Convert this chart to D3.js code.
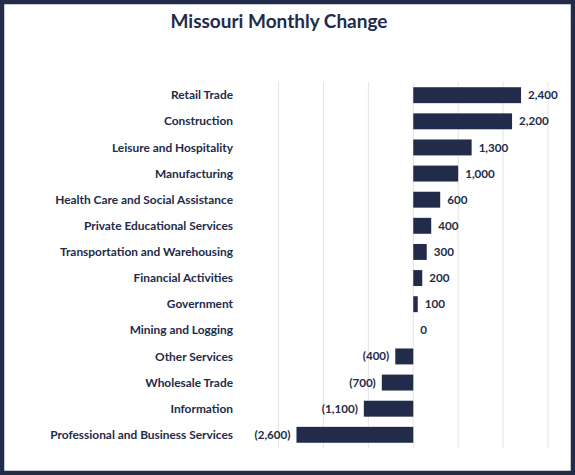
<!DOCTYPE html>
<html>
<head>
<meta charset="utf-8">
<script src="https://cdn.jsdelivr.net/npm/d3@7"></script>
<style>
  body { margin: 0; background: #fff; }
  svg { display: block; }
  text { font-family: Lato, "Noto Sans", sans-serif; fill: #222b4a; }
</style>
</head>
<body>
<svg id="chart"></svg>
<script>
const categories = [
  "Retail Trade", "Construction", "Leisure and Hospitality", "Manufacturing",
  "Health Care and Social Assistance", "Private Educational Services",
  "Transportation and Warehousing", "Financial Activities", "Government",
  "Mining and Logging", "Other Services", "Wholesale Trade", "Information",
  "Professional and Business Services"
];
const values = [2400, 2200, 1300, 1000, 600, 400, 300, 200, 100, 0, -400, -700, -1100, -2600];
const gridTicks = [-3000, -2000, -1000, 0, 1000, 2000, 3000];

const width = 575, height = 475;
const navy = "#222b4a";

const svg = d3.select("#chart").attr("width", width).attr("height", height);

// frame
svg.append("rect")
  .attr("x", 2).attr("y", 2)
  .attr("width", width - 4).attr("height", height - 4)
  .attr("fill", "#fff")
  .attr("stroke", navy)
  .attr("stroke-width", 4.5);

svg.append("text")
  .attr("x", 279).attr("y", 28)
  .attr("text-anchor", "middle")
  .style("font-size", "19px")
  .style("font-weight", "bold")
  .text("Missouri Monthly Change");

const x = d3.scaleLinear().domain([-3000, 3000]).range([278.5, 548]);
const y = d3.scaleBand().domain(categories).range([82, 448]).paddingInner(0.39).paddingOuter(0.2);

// gridlines
svg.append("g")
  .selectAll("line")
  .data(gridTicks)
  .join("line")
  .attr("x1", d => x(d)).attr("x2", d => x(d))
  .attr("y1", 82).attr("y2", 448)
  .attr("stroke", "#e3e3e3")
  .attr("stroke-width", 1);

// bars
svg.append("g")
  .selectAll("rect")
  .data(values)
  .join("rect")
  .attr("x", d => x(Math.min(0, d)))
  .attr("width", d => Math.abs(x(d) - x(0)))
  .attr("y", (d, i) => y(categories[i]))
  .attr("height", y.bandwidth())
  .attr("fill", navy);

// category labels
svg.append("g")
  .selectAll("text")
  .data(categories)
  .join("text")
  .attr("x", 233)
  .attr("y", d => y(d) + y.bandwidth() / 2)
  .attr("dy", "0.35em")
  .attr("text-anchor", "end")
  .style("font-size", "11.9px")
  .style("font-weight", "bold")
  .text(d => d);

// value labels
const fmt = d3.format(",");
svg.append("g")
  .selectAll("text")
  .data(values)
  .join("text")
  .attr("x", d => d < 0 ? x(d) - 6 : x(d) + 7)
  .attr("y", (d, i) => y(categories[i]) + y.bandwidth() / 2)
  .attr("dy", "0.35em")
  .attr("text-anchor", d => d < 0 ? "end" : "start")
  .style("font-size", "11.6px")
  .style("font-weight", "bold")
  .text(d => d < 0 ? `(${fmt(-d)})` : fmt(d));
</script>
</body>
</html>
